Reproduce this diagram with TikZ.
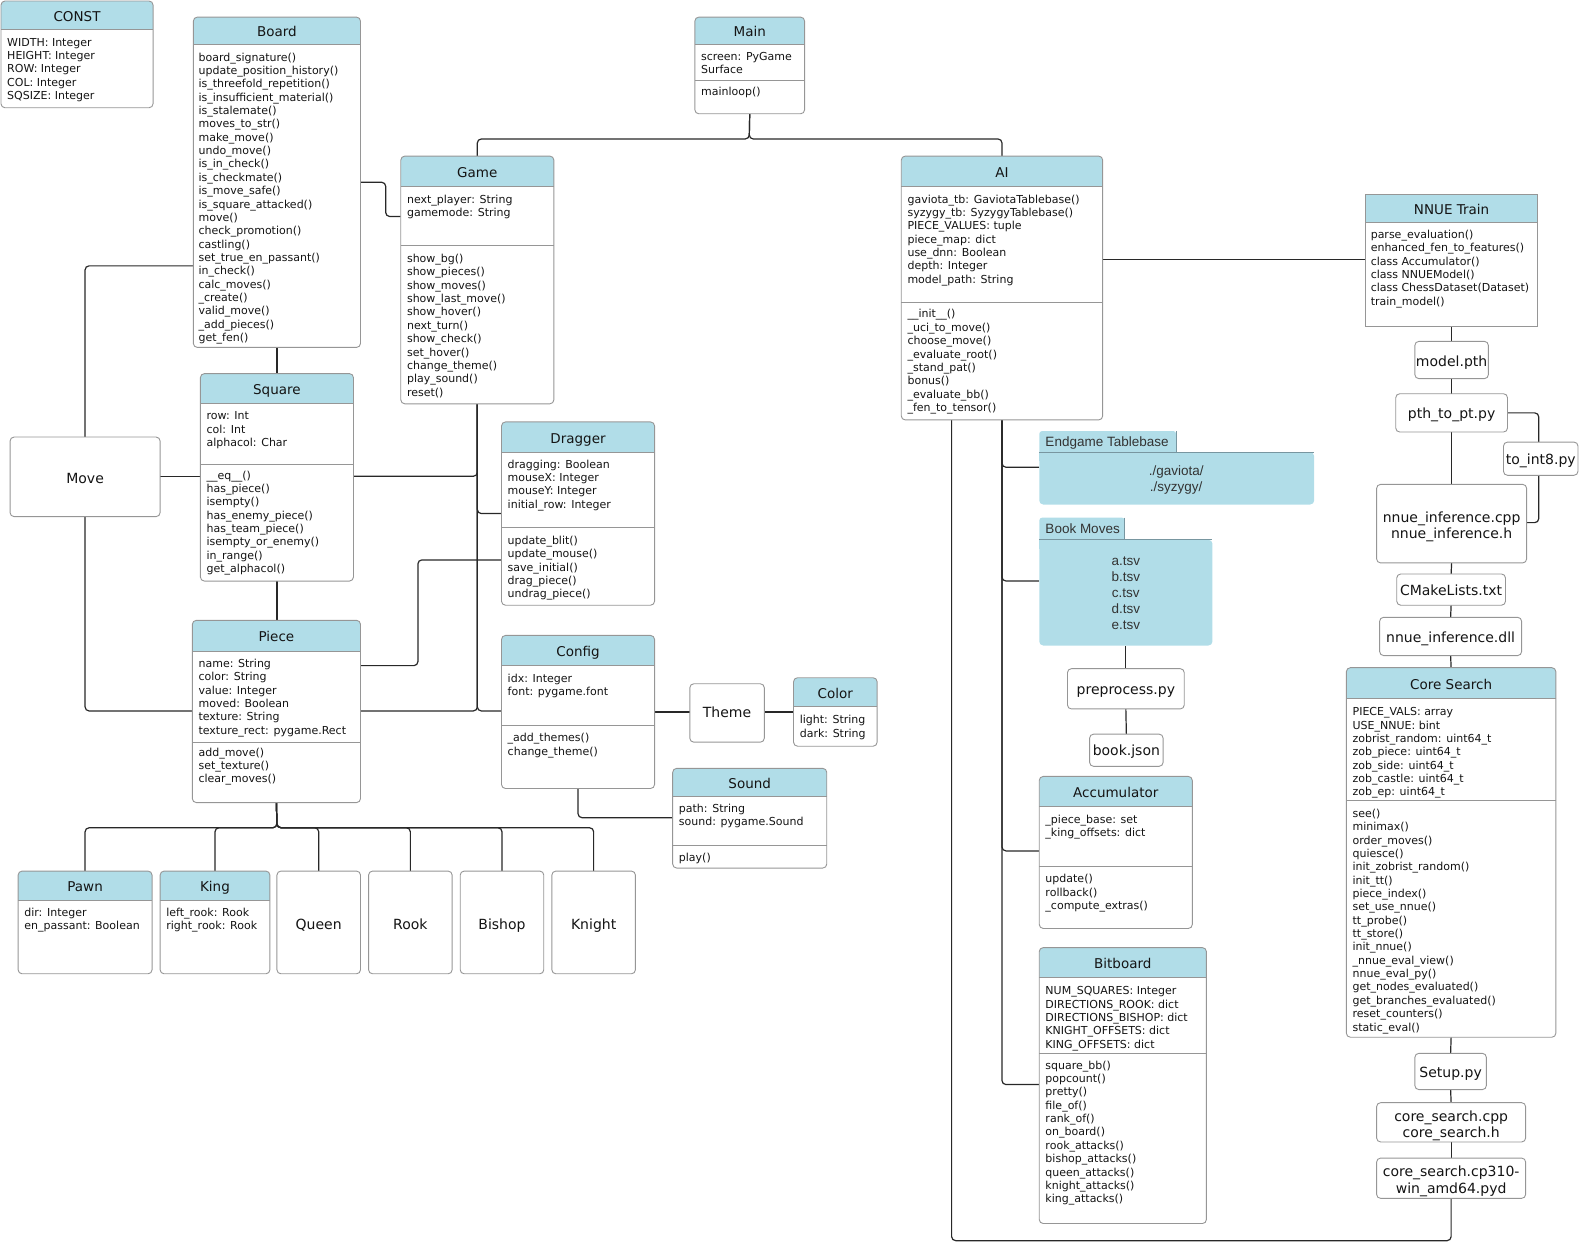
\documentclass[tikz,border=0pt]{standalone}
\usepackage{fontspec}
\setmainfont{DejaVu Sans}
\newfontfamily\arialf{Liberation Sans}
\usetikzlibrary{fit}
\definecolor{hdr}{RGB}{177,221,232}
\definecolor{frm}{RGB}{150,150,150}
\definecolor{ln}{RGB}{40,40,40}
\definecolor{tx}{RGB}{20,20,20}
\definecolor{tabline}{RGB}{120,150,160}
\pgfdeclarelayer{bg}\pgfsetlayers{bg,main}
\tikzset{
 frame/.style={draw=frm, line width=0.9pt},
 boxfit/.style={inner sep=0pt, fill=white, draw=none},
 ttl/.style={font=\fontsize{13.5}{16}\selectfont, text=tx, inner sep=0pt, anchor=base},
 body/.style={font=\fontsize{11}{13.35}\selectfont, text=tx, inner sep=0pt, anchor=north west, align=left},
 big/.style={font=\fontsize{14}{16.1}\selectfont, text=tx, inner sep=0pt, anchor=north, align=center},
 tabtxt/.style={font=\arialf\fontsize{13.5}{16}\selectfont, text=black!80, inner sep=0pt},
 conn/.style={draw=ln, line width=1.2pt, rounded corners=4pt},
}
% radius, name, x1, y1, x2, y2, header bottom, title
\newcommand\umlbox[8][4pt]{%
 \node[boxfit, fit={(#3,#4)(#5,#6)}] (#2) {};
 \begin{scope}\clip[rounded corners=#1] (#3,#4) rectangle (#5,#6);
 \fill[hdr] (#3,#4) rectangle (#5,#7);\end{scope}
 \draw[frame, rounded corners=#1] (#3,#4) rectangle (#5,#6);
 \draw[frame] (#3,#7) -- (#5,#7);
 \node[ttl] (#2-t) at ({(#3+#5)/2},{(#4+#7)/2+6}) {#8};}
\newcommand\divline[3]{\draw[frame] (#1,#3) -- (#2,#3);}
\newcommand\bodytext[4]{\node[body] (#1) at (#2,{#3-4.4}) {\rule{0pt}{9pt}#4};}
% name, x1, y1, x2, y2, first line centre, text
\newcommand\plainbox[7]{%
 \node[boxfit, fit={(#2,#3)(#4,#5)}] (#1) {};
 \draw[frame, rounded corners=4pt] (#2,#3) rectangle (#4,#5);
 \node[big] (#1-t) at ({(#2+#4)/2},{#6-5.4}) {\rule{0pt}{11pt}#7};}
\begin{document}
\begin{tikzpicture}[x=1.007pt, y=-1.007pt]
\useasboundingbox (0,0) rectangle (1568,1235);

% ---------- CONST
\umlbox{const}{1}{1}{152}{107}{29}{CONST}
\bodytext{const-a}{7}{41}{WIDTH: Integer\\HEIGHT: Integer\\ROW: Integer\\COL: Integer\\SQSIZE: Integer}

% ---------- Board
\umlbox{board}{192}{17}{358}{345}{44}{Board}
\bodytext{board-m}{197}{56}{board\_signature()\\update\_position\_history()\\is\_threefold\_repetition()\\is\_insufficient\_material()\\is\_stalemate()\\moves\_to\_str()\\make\_move()\\undo\_move()\\is\_in\_check()\\is\_checkmate()\\is\_move\_safe()\\is\_square\_attacked()\\move()\\check\_promotion()\\castling()\\set\_true\_en\_passant()\\in\_check()\\calc\_moves()\\\_create()\\valid\_move()\\\_add\_pieces()\\get\_fen()}

% ---------- Main
\umlbox{main}{690}{17}{799}{113}{44}{Main}
\divline{690}{799}{80}
\bodytext{main-a}{696}{55}{screen: PyGame\\Surface}
\bodytext{main-m}{696}{90}{mainloop()}

% ---------- Game
\umlbox{game}{398}{155}{550}{401}{185}{Game}
\divline{398}{550}{244}
\bodytext{game-a}{404}{197}{next\_player: String\\gamemode: String}
\bodytext{game-m}{404}{256}{show\_bg()\\show\_pieces()\\show\_moves()\\show\_last\_move()\\show\_hover()\\next\_turn()\\show\_check()\\set\_hover()\\change\_theme()\\play\_sound()\\reset()}

% ---------- AI
\umlbox{ai}{895}{155}{1095}{417}{185}{AI}
\divline{895}{1095}{300}
\bodytext{ai-a}{901}{197}{gaviota\_tb: GaviotaTablebase()\\syzygy\_tb: SyzygyTablebase()\\PIECE\_VALUES: tuple\\piece\_map: dict\\use\_dnn: Boolean\\depth: Integer\\model\_path: String}
\bodytext{ai-m}{901}{311}{\_\_init\_\_()\\\_uci\_to\_move()\\choose\_move()\\\_evaluate\_root()\\\_stand\_pat()\\bonus()\\\_evaluate\_bb()\\\_fen\_to\_tensor()}

% ---------- NNUE Train
\umlbox[0pt]{nnue}{1356}{193}{1527}{324}{221}{NNUE Train}
\bodytext{nnue-m}{1361}{232}{parse\_evaluation()\\enhanced\_fen\_to\_features()\\class Accumulator()\\class NNUEModel()\\class ChessDataset(Dataset)\\train\_model()}

% ---------- Square
\umlbox{square}{199}{371}{351}{577}{401}{Square}
\divline{199}{351}{461}
\bodytext{square-a}{205}{412}{row: Int\\col: Int\\alphacol: Char}
\bodytext{square-m}{205}{471}{\_\_eq\_\_()\\has\_piece()\\isempty()\\has\_enemy\_piece()\\has\_team\_piece()\\isempty\_or\_enemy()\\in\_range()\\get\_alphacol()}

% ---------- Move
\plainbox{move}{10}{434}{159}{513}{474}{Move}

% ---------- Dragger
\umlbox{dragger}{498}{419}{650}{601}{449}{Dragger}
\divline{498}{650}{524}
\bodytext{dragger-a}{504}{460}{dragging: Boolean\\mouseX: Integer\\mouseY: Integer\\initial\_row: Integer}
\bodytext{dragger-m}{504}{536}{update\_blit()\\update\_mouse()\\save\_initial()\\drag\_piece()\\undrag\_piece()}

% ---------- Piece
\umlbox{piece}{191}{616}{358}{797}{647}{Piece}
\divline{191}{358}{737}
\bodytext{piece-a}{197}{658}{name: String\\color: String\\value: Integer\\moved: Boolean\\texture: String\\texture\_rect: pygame.Rect}
\bodytext{piece-m}{197}{746}{add\_move()\\set\_texture()\\clear\_moves()}

% ---------- Config
\umlbox{config}{498}{631}{650}{783}{661}{Config}
\divline{498}{650}{720}
\bodytext{config-a}{504}{673}{idx: Integer\\font: pygame.font}
\bodytext{config-m}{504}{732}{\_add\_themes()\\change\_theme()}

% ---------- Theme, Color, Sound
\plainbox{theme}{685}{679}{759}{737}{707}{Theme}
\umlbox{color}{788}{673}{871}{741}{702}{Color}
\bodytext{color-a}{794}{714}{light: String\\dark: String}
\umlbox{sound}{668}{763}{821}{862}{791}{Sound}
\divline{668}{821}{840}
\bodytext{sound-a}{674}{802}{path: String\\sound: pygame.Sound}
\bodytext{sound-m}{674}{851}{play()}

% ---------- pieces
\umlbox{pawn}{18}{865}{151}{967}{894}{Pawn}
\bodytext{pawn-a}{24}{905}{dir: Integer\\en\_passant: Boolean}
\umlbox{king}{159}{865}{268}{967}{894}{King}
\bodytext{king-a}{165}{905}{left\_rook: Rook\\right\_rook: Rook}
\plainbox{queen}{275}{865}{358}{967}{917}{Queen}
\plainbox{rook}{366}{865}{449}{967}{917}{Rook}
\plainbox{bishop}{457}{865}{540}{967}{917}{Bishop}
\plainbox{knight}{548}{865}{631}{967}{917}{Knight}

% ---------- Endgame Tablebase
\node[inner sep=0pt, fit={(1032,428)(1305,501)}] (eg) {};
\fill[hdr, rounded corners=4pt] (1032,449) rectangle (1305,501);
\fill[hdr] (1032,449) rectangle (1040,458);
\fill[hdr, rounded corners=3pt] (1032,428) rectangle (1168,453);
\draw[tabline, line width=0.8pt] (1032,449) -- (1305,449);
\draw[tabline, line width=0.8pt] (1168,428) -- (1168,449);
\node[tabtxt, anchor=base west] (eg-t) at (1038,{438+5.5}) {Endgame Tablebase};
\node[tabtxt, anchor=north, align=center] (eg-b) at (1168,{467-5.2}) {\rule{0pt}{10.5pt}./gaviota/\\./syzygy/};

% ---------- Book Moves
\node[inner sep=0pt, fit={(1032,514)(1204,641)}] (book) {};
\fill[hdr, rounded corners=4pt] (1032,536) rectangle (1204,641);
\fill[hdr] (1032,536) rectangle (1040,545);
\fill[hdr, rounded corners=3pt] (1032,514) rectangle (1117,540);
\draw[tabline, line width=0.8pt] (1032,536) -- (1204,536);
\draw[tabline, line width=0.8pt] (1117,514) -- (1117,536);
\node[tabtxt, anchor=base west] (book-t) at (1038,{524+5.5}) {Book Moves};
\node[tabtxt, anchor=north, align=center] (book-b) at (1118,{556-5.2}) {\rule{0pt}{10.5pt}a.tsv\\b.tsv\\c.tsv\\d.tsv\\e.tsv};

\plainbox{prep}{1060}{664}{1176}{704}{684}{preprocess.py}
\plainbox{bookjson}{1082}{729}{1155}{761}{745}{book.json}

% ---------- Accumulator
\umlbox{acc}{1032}{771}{1184}{922}{801}{Accumulator}
\divline{1032}{1184}{860}
\bodytext{acc-a}{1038}{813}{\_piece\_base: set\\\_king\_offsets: dict}
\bodytext{acc-m}{1038}{872}{update()\\rollback()\\\_compute\_extras()}

% ---------- Bitboard
\umlbox{bit}{1032}{941}{1198}{1215}{971}{Bitboard}
\divline{1032}{1198}{1046}
\bodytext{bit-a}{1038}{983}{NUM\_SQUARES: Integer\\DIRECTIONS\_ROOK: dict\\DIRECTIONS\_BISHOP: dict\\KNIGHT\_OFFSETS: dict\\KING\_OFFSETS: dict}
\bodytext{bit-m}{1038}{1057}{square\_bb()\\popcount()\\pretty()\\file\_of()\\rank\_of()\\on\_board()\\rook\_attacks()\\bishop\_attacks()\\queen\_attacks()\\knight\_attacks()\\king\_attacks()}

% ---------- right column
\plainbox{modelpth}{1405}{339}{1478}{376}{358}{model.pth}
\plainbox{pth}{1386}{391}{1497}{429}{410}{pth\_to\_pt.py}
\plainbox{int8}{1493}{439}{1567}{472}{456}{to\_int8.py}
\plainbox{nnueinf}{1367}{481}{1516}{559}{513}{nnue\_inference.cpp\\nnue\_inference.h}
\plainbox{cmake}{1387}{570}{1495}{601}{586}{CMakeLists.txt}
\plainbox{dll}{1370}{613}{1511}{651}{632}{nnue\_inference.dll}

\umlbox{core}{1337}{663}{1545}{1030}{694}{Core Search}
\divline{1337}{1545}{795}
\bodytext{core-a}{1343}{706}{PIECE\_VALS: array\\USE\_NNUE: bint\\zobrist\_random: uint64\_t\\zob\_piece: uint64\_t\\zob\_side: uint64\_t\\zob\_castle: uint64\_t\\zob\_ep: uint64\_t}
\bodytext{core-m}{1343}{807}{see()\\minimax()\\order\_moves()\\quiesce()\\init\_zobrist\_random()\\init\_tt()\\piece\_index()\\set\_use\_nnue()\\tt\_probe()\\tt\_store()\\init\_nnue()\\\_nnue\_eval\_view()\\nnue\_eval\_py()\\get\_nodes\_evaluated()\\get\_branches\_evaluated()\\reset\_counters()\\static\_eval()}

\plainbox{setup}{1405}{1046}{1476}{1082}{1064}{Setup.py}
\plainbox{cpp}{1367}{1095}{1515}{1134}{1108}{core\_search.cpp\\core\_search.h}
\plainbox{pyd}{1367}{1150}{1515}{1190}{1163}{core\_search.cp310-\\win\_amd64.pyd}

% ---------- connectors
\begin{pgfonlayer}{bg}
\draw[conn] (main.south) -- (744,138) -| (game.north);
\draw[conn] (main.south) -- (744,138) -| (ai.north);
\draw[conn] (board.east) -- (383,181) -- (383,215) -- (game.west |- 0,215);
\draw[conn] (board.west |- 0,264) -| (move.north);
\draw[conn] (board.south) -- (square.north);
\draw[conn] (move.east |- 0,473) -- (square.west |- 0,473);
\draw[conn] (square.east |- 0,473) -| (game.south);
\draw[conn] (game.south) |- (dragger.west |- 0,510);
\draw[conn] (game.south) |- (piece.east |- 0,706);
\draw[conn] (game.south) |- (config.west |- 0,706);
\draw[conn] (piece.east |- 0,661) -- (415,661) -- (415,556) -- (dragger.west |- 0,556);
\draw[conn] (square.south) -- (piece.north -| square.south);
\draw[conn] (move.south) |- (piece.west |- 0,706);
\draw[conn] (config.east |- 0,707) -- (theme.west |- 0,707);
\draw[conn] (theme.east |- 0,707) -- (color.west |- 0,707);
\draw[conn] (config.south) |- (sound.west |- 0,812);
\foreach \c in {pawn,king,queen,rook,bishop,knight}
  \draw[conn] (piece.south) -- (275,822) -| (\c.north);
\draw[conn] (ai.east |- 0,258) -- (nnue.west |- 0,258);
\draw[conn] (nnue.south) -- (modelpth.north);
\draw[conn] (modelpth.south) -- (pth.north);
\draw[conn] (pth.south) -- (nnueinf.north);
\draw[conn] (pth.east) -- (1528,410) -- (1528,519) -- (nnueinf.east |- 0,519);
\draw[conn] (nnueinf.south) -- (cmake.north);
\draw[conn] (cmake.south) -- (dll.north);
\draw[conn] (dll.south) -- (core.north);
\draw[conn] (core.south) -- (setup.north);
\draw[conn] (setup.south) -- (cpp.north);
\draw[conn] (cpp.south) -- (pyd.north);
\draw[conn] (pyd.south) -- (1441,1232) -| (ai.south -| 945,0);
\draw[conn] (ai.south) |- (eg.west |- 0,464);
\draw[conn] (ai.south) |- (book.west |- 0,577);
\draw[conn] (ai.south) |- (acc.west |- 0,845);
\draw[conn] (ai.south) |- (bit.west |- 0,1077);
\draw[conn] (book.south -| 1118,0) -- (prep.north);
\draw[conn] (prep.south) -- (bookjson.north);
\end{pgfonlayer}
\end{tikzpicture}
\end{document}
